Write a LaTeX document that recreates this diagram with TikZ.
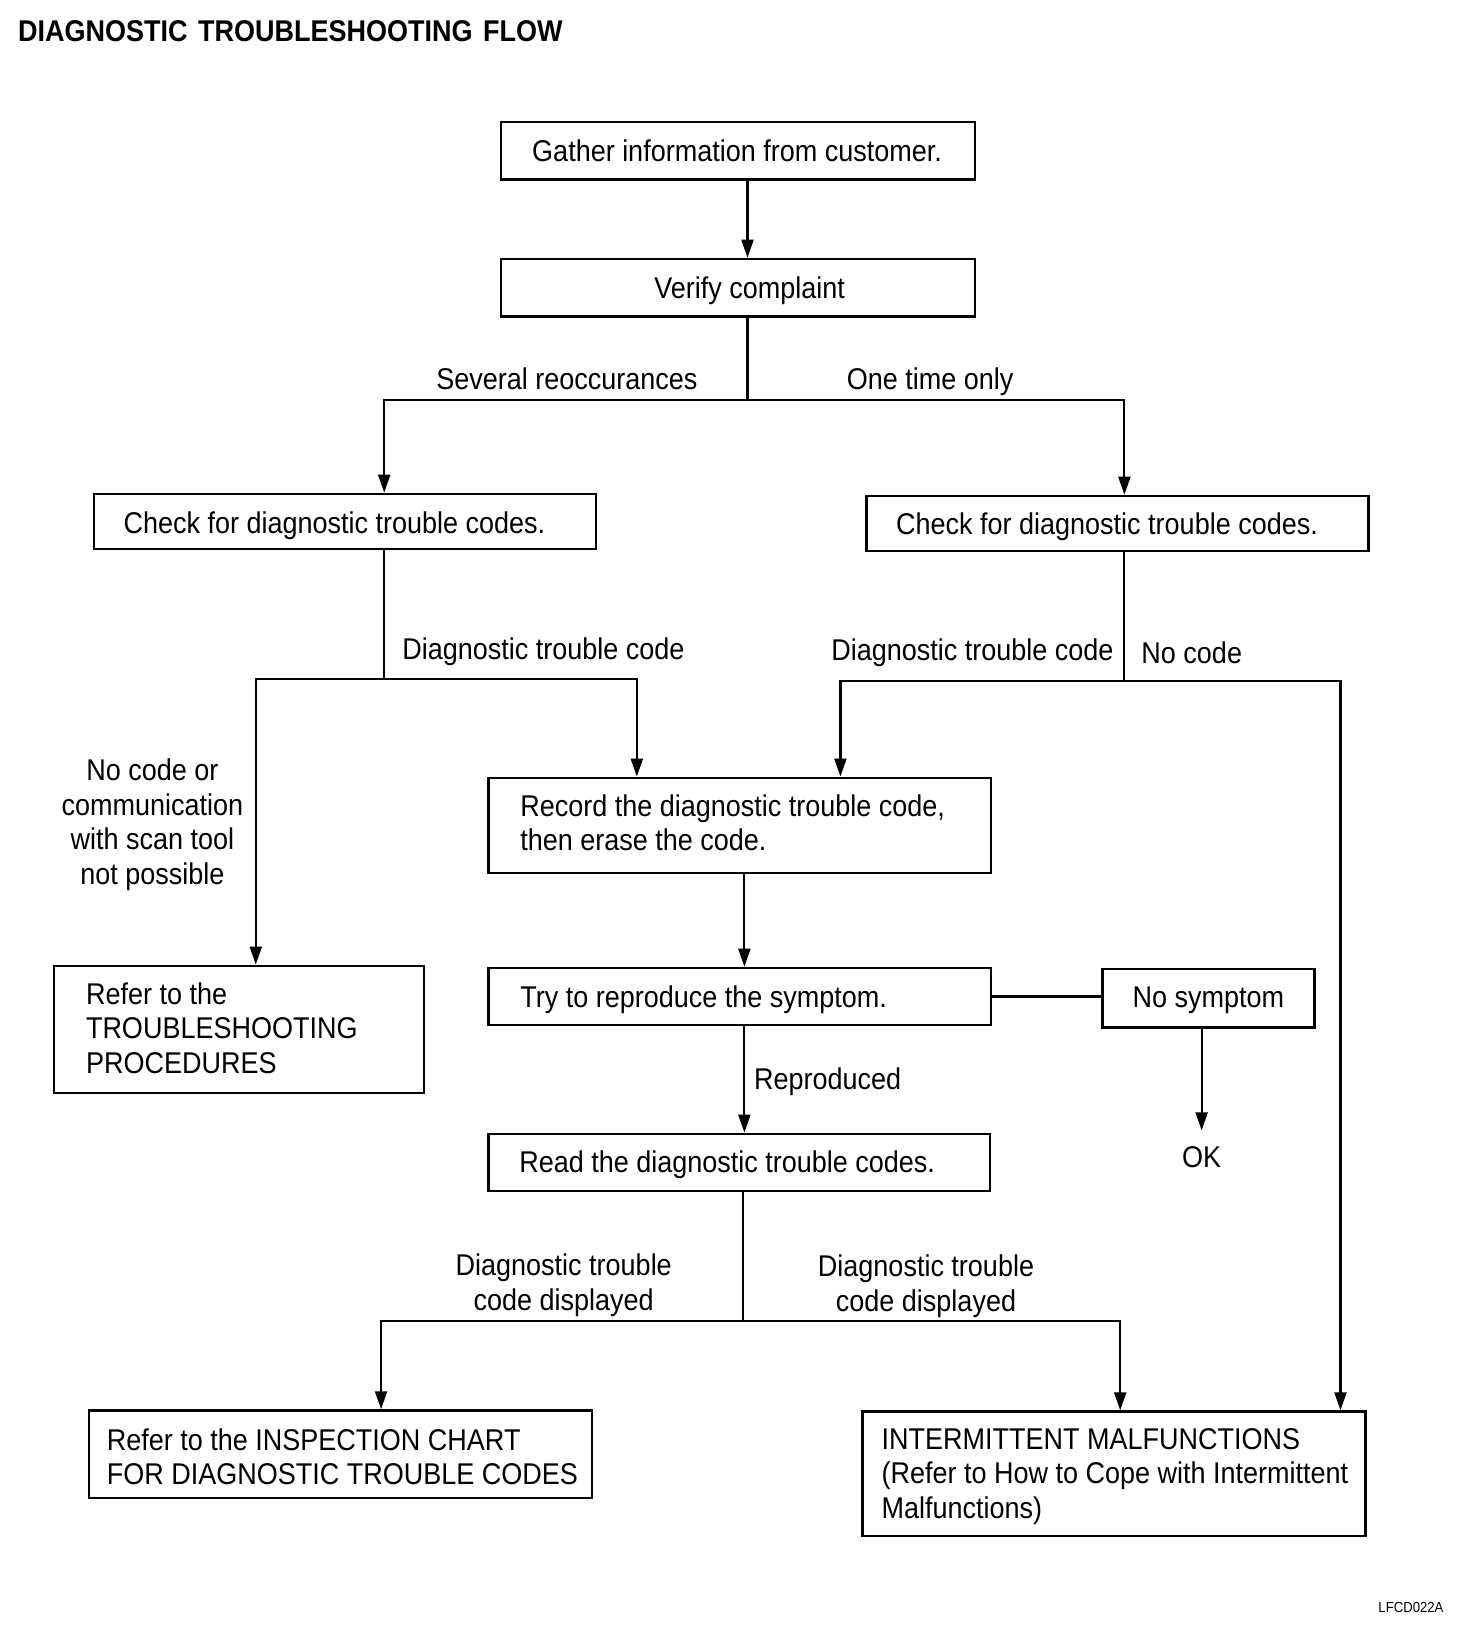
\documentclass[tikz,border=0pt]{standalone}
\usepackage{fontspec}
\setmainfont{Liberation Sans}[FakeStretch=0.9]
\usetikzlibrary{arrows.meta}
\def\U{0.52199pt}
\begin{document}
\begin{tikzpicture}[x=\U, y=-\U,
  txt/.style={font=\fontsize{15pt}{17.2pt}\selectfont, inner sep=0pt, align=left},
  ctxt/.style={font=\fontsize{15pt}{17.2pt}\selectfont, inner sep=0pt, align=center},
  ttl/.style={font=\fontsize{15pt}{17.2pt}\selectfont\bfseries, inner sep=0pt},
  small/.style={font=\fontsize{7.3pt}{8pt}\selectfont, inner sep=0pt},
  box/.style={draw, line width=1.2pt, inner sep=0pt},
  bx/.style 2 args={box, minimum width={#1*\U}, minimum height={#2*\U}},
  ln/.style={line width=1.1pt},
  arr/.style={line width=1.1pt, -{Triangle[length=9pt,width=6pt]}}]
\useasboundingbox (0,0) rectangle (1410,1572.8);

% title and figure code
\node[ttl, anchor=north west] (title) at (17,19) {DIAGNOSTIC\hspace{0.35em}TROUBLESHOOTING\hspace{0.35em}FLOW};
\node[small, anchor=east] (fig) at (1383,1540) {LFCD022A};

% boxes
\node[bx={454}{55}] (gather) at (707,144.5) {};
\node[bx={454}{55}] (verify) at (707,275.5) {};
\node[bx={481}{53}] (lcheck) at (330.5,499.5) {};
\node[bx={481}{53}] (rcheck) at (1070.5,501.5) {};
\node[bx={481}{91}] (record) at (708.5,790.5) {};
\node[bx={354}{122}] (refer) at (229,986) {};
\node[bx={481}{55}] (try) at (708.5,954.5) {};
\node[bx={203}{56}] (nosym) at (1157.5,956) {};
\node[bx={480}{55}] (read) at (708,1113.5) {};
\node[bx={482}{84}] (insp) at (326,1393) {};
\node[bx={482}{119}] (inter) at (1067,1411.5) {};

% box texts
\node[txt, anchor=north] (gather-t) at (706,133.7) {Gather information from customer.};
\node[txt, anchor=north] (verify-t) at (718,264.7) {Verify complaint};
\node[txt, anchor=north west] (lcheck-t) at (118,489.7) {Check for diagnostic trouble codes.};
\node[txt, anchor=north west] (rcheck-t) at (858,490.7) {Check for diagnostic trouble codes.};
\node[txt, anchor=north west] (record-t) at (498,760.7) {Record the diagnostic trouble code,\\then erase the code.};
\node[txt, anchor=north west] (refer-t) at (82,940.7) {Refer to the\\TROUBLESHOOTING\\PROCEDURES};
\node[txt, anchor=north west] (try-t) at (498,943.7) {Try to reproduce the symptom.};
\node[txt, anchor=north] (nosym-t) at (1157.5,944.7) {No symptom};
\node[txt, anchor=north west] (read-t) at (497,1101.7) {Read the diagnostic trouble codes.};
\node[txt, anchor=north west] (insp-t) at (102,1367.7) {Refer to the INSPECTION CHART\\FOR DIAGNOSTIC TROUBLE CODES};
\node[txt, anchor=north west] (inter-t) at (844,1367.7) {INTERMITTENT MALFUNCTIONS\\(Refer to How to Cope with Intermittent\\Malfunctions)};

% branch labels
\node[txt, anchor=north] (sev) at (543,351.7) {Several reoccurances};
\node[txt, anchor=north] (one) at (891,351.7) {One time only};
\node[txt, anchor=north west] (dtc1) at (385,610.7) {Diagnostic trouble code};
\node[txt, anchor=north east] (dtc2) at (1067,611.7) {Diagnostic trouble code};
\node[txt, anchor=north west] (nocode) at (1093,614.7) {No code};
\node[ctxt, anchor=north] (nocom) at (146,726.7) {No code or\\communication\\with scan tool\\not possible};
\node[txt, anchor=north west] (repro) at (722,1022.7) {Reproduced};
\node[txt, anchor=north] (ok) at (1151,1097.7) {OK};
\node[ctxt, anchor=north] (dtcd1) at (540,1200.7) {Diagnostic trouble\\code displayed};
\node[ctxt, anchor=north] (dtcd2) at (887,1201.7) {Diagnostic trouble\\code displayed};

% branch points
\coordinate (m1) at (716,200);
\coordinate (s1) at (716,383);
\coordinate (s1l) at (368,383);
\coordinate (s1r) at (1077,383);
\coordinate (s2) at (368,650);
\coordinate (s2l) at (245,650);
\coordinate (s2r) at (610,650);
\coordinate (s3) at (1077,652);
\coordinate (s3l) at (805,652);
\coordinate (s3r) at (1284,652);
\coordinate (m2) at (713,880);
\coordinate (s5) at (712,1265);
\coordinate (s5l) at (365,1265);
\coordinate (s5r) at (1073,1265);

% connectors
\draw[arr] (m1 |- gather.south) -- (m1 |- verify.north);
\draw[ln] (s1 |- verify.south) -- (s1);
\draw[arr] (s1) -- (s1l) -- (s1l |- lcheck.north);
\draw[arr] (s1) -- (s1r) -- (s1r |- rcheck.north);
\draw[ln] (s2 |- lcheck.south) -- (s2);
\draw[arr] (s2) -- (s2l) -- (s2l |- refer.north);
\draw[arr] (s2) -- (s2r) -- (s2r |- record.north);
\draw[ln] (s3 |- rcheck.south) -- (s3);
\draw[arr] (s3) -- (s3l) -- (s3l |- record.north);
\draw[arr] (s3) -- (s3r) -- (s3r |- inter.north);
\draw[arr] (m2 |- record.south) -- (m2 |- try.north);
\draw[arr] (m2 |- try.south) -- (m2 |- read.north);
\draw[ln] (try.east) -- (try.east -| nosym.west);
\draw[arr, shorten >=7.8pt] (ok.north |- nosym.south) -- (ok.north);
\draw[ln] (s5 |- read.south) -- (s5);
\draw[arr] (s5) -- (s5l) -- (s5l |- insp.north);
\draw[arr] (s5) -- (s5r) -- (s5r |- inter.north);
\end{tikzpicture}
\end{document}
